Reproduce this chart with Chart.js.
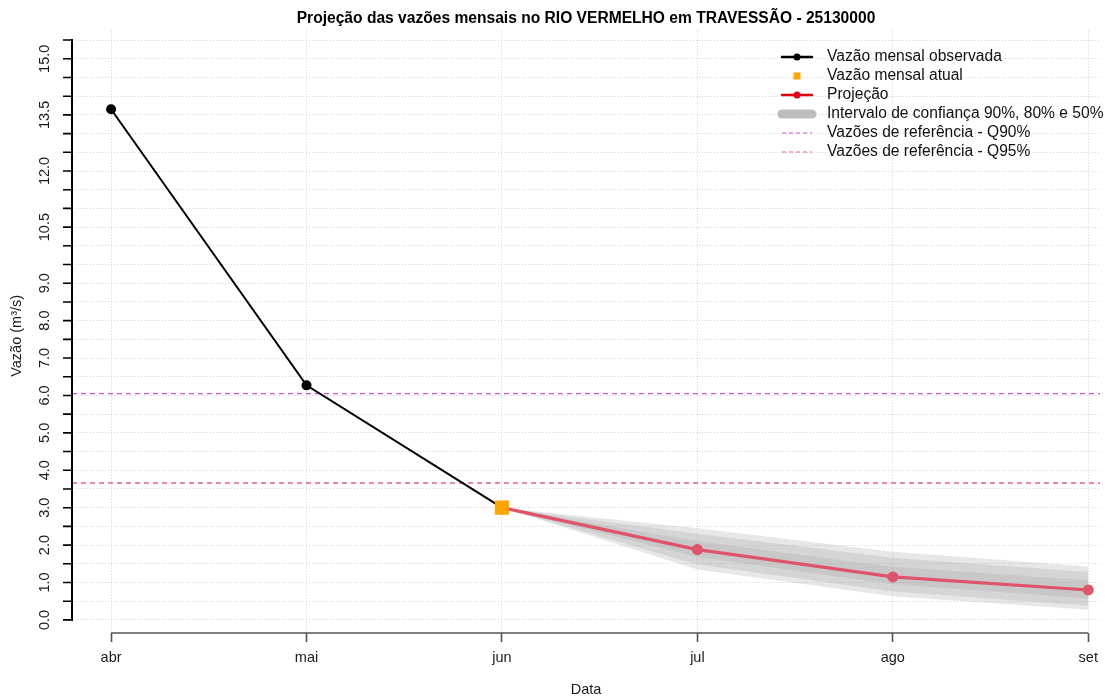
<!DOCTYPE html>
<html>
<head>
<meta charset="utf-8">
<script src="https://cdn.jsdelivr.net/npm/chart.js@4/dist/chart.umd.min.js"></script>
<style>
  html, body { margin: 0; padding: 0; background: #fff; }
  #wrap { width: 1110px; height: 700px; }
</style>
</head>
<body>
<div id="wrap"><canvas id="chart"></canvas></div>
<script>
// Meses (eixo x) — abr = 0 ... set = 5
const months = ['abr', 'mai', 'jun', 'jul', 'ago', 'set'];

// Vazões observadas (abr, mai, jun)
const observed = [13.65, 6.27, 3.0];
// Vazão mensal atual (jun)
const currentFlow = 3.0;
// Projeção (jun, jul, ago, set)
const projection = [3.0, 1.88, 1.15, 0.80];

// Intervalos de confiança (jun, jul, ago, set)
const ic90Low  = [3.0, 1.35, 0.63, 0.27];
const ic90High = [3.0, 2.45, 1.82, 1.43];
const ic80Low  = [3.0, 1.48, 0.76, 0.38];
const ic80High = [3.0, 2.30, 1.66, 1.28];
const ic50Low  = [3.0, 1.68, 0.95, 0.57];
const ic50High = [3.0, 2.10, 1.42, 1.06];

// Vazões de referência
const q90 = 6.05;
const q95 = 3.66;

// Rótulos do eixo y
const yLabelValues = [0, 1, 2, 3, 4, 5, 6, 7, 8, 9, 10.5, 12, 13.5, 15];
const yLabels = ['0.0', '1.0', '2.0', '3.0', '4.0', '5.0', '6.0', '7.0', '8.0', '9.0', '10.5', '12.0', '13.5', '15.0'];
const yTickStep = 0.5;
const yTickMax = 15.5;

const X_MIN = -0.2, X_MAX = 5.06;
const FONT = '"Liberation Sans", Arial, Helvetica, sans-serif';
const Q90_COLOR = '#d552d5';
const Q95_COLOR = '#e8607e';

const pts = (vals, start) => vals.map((v, i) => ({ x: start + i, y: v }));

const yTicks = [];
for (let v = 0; v <= yTickMax + 1e-9; v += yTickStep) yTicks.push({ value: +v.toFixed(2) });

const bandFill = 'rgba(170,170,170,0.28)';

// Eixos estilo R + legenda
const rStyle = {
    id: 'rStyle',
    afterDraw(chart) {
        const { ctx, chartArea, scales: { x, y } } = chart;
        ctx.save();

        // eixo y
        const ax = chartArea.left;
        ctx.strokeStyle = '#000';
        ctx.lineWidth = 2;
        ctx.beginPath();
        ctx.moveTo(ax, y.getPixelForValue(0) + 1);
        ctx.lineTo(ax, y.getPixelForValue(yTickMax) - 1);
        ctx.stroke();
        ctx.lineWidth = 1.6;
        ctx.beginPath();
        yTicks.forEach(t => {
            const py = y.getPixelForValue(t.value);
            ctx.moveTo(ax - 9, py);
            ctx.lineTo(ax, py);
        });
        ctx.stroke();

        ctx.font = '14.5px ' + FONT;
        ctx.fillStyle = '#1a1a1a';
        ctx.textAlign = 'center';
        ctx.textBaseline = 'middle';
        yLabelValues.forEach((v, i) => {
            ctx.save();
            ctx.translate(45, y.getPixelForValue(v));
            ctx.rotate(-Math.PI / 2);
            ctx.fillText(yLabels[i], 0, 0);
            ctx.restore();
        });

        // título do eixo y
        ctx.save();
        ctx.translate(17, (chartArea.top + chartArea.bottom) / 2 + 4);
        ctx.rotate(-Math.PI / 2);
        ctx.fillText('Vazão (m³/s)', 0, 0);
        ctx.restore();

        // eixo x
        ctx.strokeStyle = '#555';
        ctx.lineWidth = 1.6;
        ctx.beginPath();
        ctx.moveTo(x.getPixelForValue(0), chartArea.bottom);
        ctx.lineTo(x.getPixelForValue(months.length - 1), chartArea.bottom);
        ctx.stroke();

        // legenda
        const lx0 = 782, lx1 = 812, lxc = 797, tx = 827;
        const rows = [57, 76, 95, 114, 133, 152];
        ctx.font = '15.6px ' + FONT;
        ctx.textAlign = 'left';
        ctx.fillStyle = '#111';
        const texts = ['Vazão mensal observada', 'Vazão mensal atual', 'Projeção',
            'Intervalo de confiança 90%, 80% e 50%', 'Vazões de referência - Q90%', 'Vazões de referência - Q95%'];
        texts.forEach((t, i) => ctx.fillText(t, tx, rows[i]));

        const seg = (yy, color, w, dash) => {
            ctx.save();
            ctx.strokeStyle = color;
            ctx.lineWidth = w;
            ctx.setLineDash(dash || []);
            ctx.lineCap = dash ? 'butt' : 'round';
            ctx.beginPath();
            ctx.moveTo(lx0, yy);
            ctx.lineTo(lx1, yy);
            ctx.stroke();
            ctx.restore();
        };
        const dot = (yy, color, r) => {
            ctx.fillStyle = color;
            ctx.beginPath();
            ctx.arc(lxc, yy, r, 0, Math.PI * 2);
            ctx.fill();
        };
        seg(rows[0], '#000', 2.5); dot(rows[0], '#000', 3.5);
        ctx.fillStyle = '#FFA500';
        ctx.fillRect(lxc - 3.5, rows[1] - 3.5, 7, 7);
        seg(rows[2], '#e3000f', 2.5); dot(rows[2], '#e3000f', 3.5);
        seg(rows[3], '#bdbdbd', 9);
        seg(rows[4], Q90_COLOR, 1, [4, 3]);
        seg(rows[5], Q95_COLOR, 1, [4, 3]);

        ctx.restore();
    }
};

new Chart(document.getElementById('chart'), {
    type: 'line',
    data: {
        datasets: [
            { label: 'Vazão mensal atual', data: [{ x: 2, y: currentFlow }], showLine: false,
              pointStyle: 'rect', pointRadius: 10, pointBackgroundColor: '#FFA500', pointBorderWidth: 0, order: 0 },
            { label: 'Projeção', data: pts(projection, 2), borderColor: '#DF536B', borderWidth: 3.2,
              pointRadius: 5.5, pointBackgroundColor: '#DF536B', pointBorderWidth: 0, order: 1 },
            { label: 'Vazão mensal observada', data: pts(observed, 0), borderColor: '#000', borderWidth: 2,
              pointRadius: 5, pointBackgroundColor: '#000', pointBorderWidth: 0, order: 2 },
            { label: 'Q90', data: [{ x: X_MIN, y: q90 }, { x: X_MAX, y: q90 }], borderColor: Q90_COLOR,
              borderWidth: 1.3, borderDash: [5, 4], pointRadius: 0, order: 3 },
            { label: 'Q95', data: [{ x: X_MIN, y: q95 }, { x: X_MAX, y: q95 }], borderColor: Q95_COLOR,
              borderWidth: 1.3, borderDash: [5, 4], pointRadius: 0, order: 3 },
            // bandas
            { label: 'ic90low', data: pts(ic90Low, 2), borderWidth: 0, pointRadius: 0, fill: false, order: 10 },
            { label: 'ic90high', data: pts(ic90High, 2), borderWidth: 0, pointRadius: 0, fill: '-1', backgroundColor: bandFill, order: 10 },
            { label: 'ic80low', data: pts(ic80Low, 2), borderWidth: 0, pointRadius: 0, fill: false, order: 9 },
            { label: 'ic80high', data: pts(ic80High, 2), borderWidth: 0, pointRadius: 0, fill: '-1', backgroundColor: bandFill, order: 9 },
            { label: 'ic50low', data: pts(ic50Low, 2), borderWidth: 0, pointRadius: 0, fill: false, order: 8 },
            { label: 'ic50high', data: pts(ic50High, 2), borderWidth: 0, pointRadius: 0, fill: '-1', backgroundColor: bandFill, order: 8 }
        ]
    },
    options: {
        responsive: true,
        maintainAspectRatio: false,
        animation: false,
        layout: { padding: { left: 72, right: 10, top: 0, bottom: 0 } },
        plugins: {
            legend: { display: false },
            tooltip: { enabled: false },
            title: {
                display: true,
                fullSize: false,
                text: 'Projeção das vazões mensais no RIO VERMELHO em TRAVESSÃO - 25130000',
                color: '#000',
                font: { family: FONT, size: 15.6, weight: 'bold' },
                padding: { top: 9, bottom: 3 }
            }
        },
        scales: {
            x: {
                type: 'linear',
                min: X_MIN,
                max: X_MAX,
                afterBuildTicks: s => { s.ticks = months.map((m, i) => ({ value: i })); },
                ticks: {
                    autoSkip: false, maxRotation: 0, padding: 7.6,
                    color: '#1a1a1a', font: { family: FONT, size: 14.5 },
                    callback: v => months[v]
                },
                grid: { color: '#d3d3d3', lineWidth: 1, tickLength: 9, tickColor: '#555', tickWidth: 1.6 },
                border: { display: false, dash: [1, 2] },
                title: { display: true, text: 'Data', color: '#1a1a1a', font: { family: FONT, size: 14.5 },
                         padding: { top: 6.5, bottom: 1.5 } }
            },
            y: {
                min: -0.35,
                max: 15.75,
                afterBuildTicks: s => { s.ticks = yTicks.map(t => ({ value: t.value })); },
                ticks: { display: false },
                grid: { color: '#d3d3d3', lineWidth: 1, drawTicks: false },
                border: { display: false, dash: [1, 2] }
            }
        }
    },
    plugins: [rStyle]
});
</script>
</body>
</html>
